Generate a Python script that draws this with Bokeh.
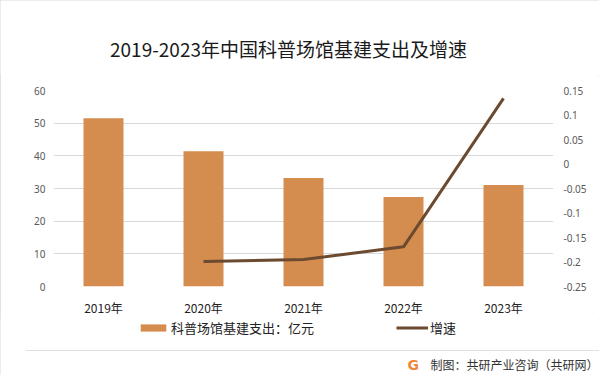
from bokeh.plotting import figure
from bokeh.models import (FactorRange, Range1d, LinearAxis, FixedTicker, CustomJSTickFormatter,
                          Legend, LegendItem, ColumnDataSource, Column)
from bokeh.core.properties import value
from bokeh.embed import file_html
from bokeh.resources import INLINE

years = ["2019年", "2020年", "2021年", "2022年", "2023年"]
spending = [51.5, 41.4, 33.2, 27.4, 31.1]
growth_years = ["2020年", "2021年", "2022年", "2023年"]
growth = [-0.199, -0.195, -0.169, 0.134]
left_ticks = [0, 10, 20, 30, 40, 50, 60]
right_ticks = [-0.25, -0.2, -0.15, -0.1, -0.05, 0, 0.05, 0.1, 0.15]

title_text = "2019-2023年中国科普场馆基建支出及增速"
bar_label = "科普场馆基建支出：亿元"
line_label = "增速"
footer_text = "制图：共研产业咨询（共研网）"

CJK = "Noto Sans CJK SC"
BAR_COLOR = "#D58C4F"
LINE_COLOR = "#6B4A30"
W = 599


def blank(height):
    f = figure(width=W, height=height, x_range=Range1d(0, W), y_range=Range1d(height, 0),
               x_axis_type=None, y_axis_type=None, output_backend="svg", toolbar_location=None,
               min_border_left=0, min_border_right=0, min_border_top=0, min_border_bottom=0)
    f.outline_line_color = None
    f.xgrid.grid_line_color = None
    f.ygrid.grid_line_color = None
    f.background_fill_color = "white"
    f.border_fill_color = "white"
    return f


# ---- title strip
top = blank(75)
top.text(x=[288], y=[48], text=[title_text], text_font=value(CJK), text_font_size="19px",
         text_color="#1a1a1a", text_align="center", text_baseline="middle")

# ---- main chart
p = figure(width=W, height=243, x_range=FactorRange(*years), y_range=Range1d(0, 60),
           output_backend="svg", toolbar_location=None,
           min_border_left=53, min_border_right=46, min_border_top=15, min_border_bottom=31)
p.outline_line_color = None
p.background_fill_color = "white"
p.border_fill_color = "white"
p.xgrid.grid_line_color = None
p.ygrid.grid_line_color = "#d9d9d9"
p.ygrid.grid_line_width = 1

p.extra_y_ranges = {"growth": Range1d(-0.25, 0.15)}

src_bar = ColumnDataSource(dict(x=years, y=spending))
bars = p.vbar(x="x", top="y", width=0.4, source=src_bar, fill_color=BAR_COLOR, line_color=None)
src_line = ColumnDataSource(dict(x=growth_years, y=growth))
ln = p.line(x="x", y="y", source=src_line, y_range_name="growth", line_color=LINE_COLOR,
            line_width=3)

la = p.yaxis[0]
la.ticker = FixedTicker(ticks=left_ticks)
la.axis_line_color = None
la.major_tick_line_color = None
la.minor_tick_line_color = None
la.major_tick_out = 0
la.major_label_standoff = 8
la.major_label_text_font = "Noto Sans"
la.major_label_text_font_size = "10px"
la.major_label_text_color = "#595959"

ra = LinearAxis(y_range_name="growth", ticker=FixedTicker(ticks=right_ticks),
                formatter=CustomJSTickFormatter(code="return String(Math.round(tick*100)/100);"))
ra.axis_line_color = None
ra.major_tick_line_color = None
ra.minor_tick_line_color = None
ra.major_tick_out = 0
ra.major_label_standoff = 10
ra.major_label_text_font = "Noto Sans"
ra.major_label_text_font_size = "10px"
ra.major_label_text_color = "#595959"
p.add_layout(ra, "right")

xa = p.xaxis[0]
xa.axis_line_color = None
xa.major_tick_line_color = None
xa.minor_tick_line_color = None
xa.major_tick_out = 0
xa.major_label_standoff = 12
xa.major_label_text_font = CJK
xa.major_label_text_font_size = "12px"
xa.major_label_text_color = "#222222"

# ---- legend + footer strip (y counted downward from the strip top)
bot = blank(57)
leg_bar = bot.vbar(x=[0], top=[0], width=0, fill_color=BAR_COLOR, line_color=None, visible=False)
leg_line = bot.line(x=[0], y=[0], line_color=LINE_COLOR, line_width=3, visible=False)
legend = Legend(items=[LegendItem(label=bar_label, renderers=[leg_bar]),
                       LegendItem(label=line_label, renderers=[leg_line])],
                orientation="horizontal", location=(137, 38), padding=0, margin=0,
                spacing=82, glyph_width=32, glyph_height=9, label_standoff=2,
                label_height=9, label_text_font=CJK, label_text_font_size="13px",
                label_text_color="#222222", background_fill_alpha=0, border_line_color=None,
                inactive_fill_alpha=0)
bot.add_layout(legend, "center")
bot.segment(x0=[25], y0=[32], x1=[W], y1=[32], line_color="#e0e0e0", line_width=1)
bot.text(x=[407], y=[46], text=["G"], text_font=value("DejaVu Sans"), text_font_style="bold",
         text_font_size="14px", text_color="#F0883A", text_align="left", text_baseline="middle")
bot.text(x=[430], y=[46], text=[footer_text], text_font=value(CJK), text_font_size="12px",
         text_color="#333333", text_align="left", text_baseline="middle")

layout = Column(children=[Column(children=[top]), Column(children=[p]), Column(children=[bot])],
                spacing=0)
layout.styles = {"outline": "1px solid #d9d9d9", "outline-offset": "-1px"}

open("out.html", "w").write(file_html(layout, INLINE))
